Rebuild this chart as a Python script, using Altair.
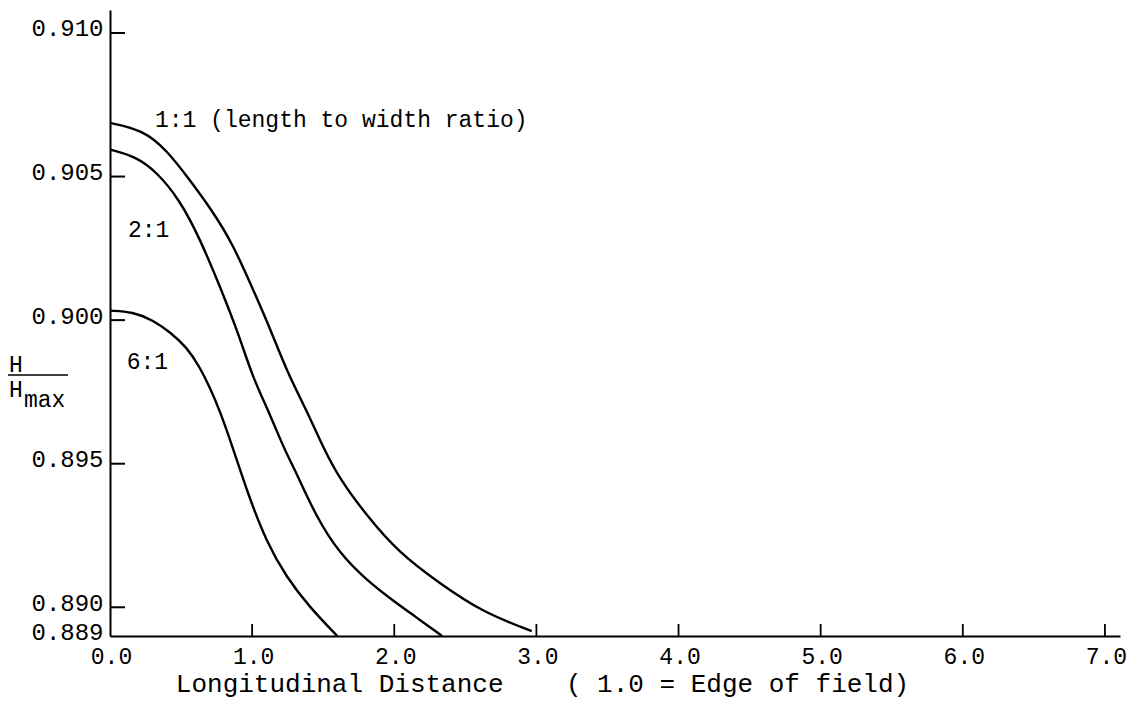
import altair as alt
import pandas as pd

# ---- data ----
x_1to1 = [0.0, 0.231, 0.400, 0.561, 0.701, 0.863, 1.017, 1.122, 1.249, 1.382, 1.508, 1.613, 1.803, 2.034, 2.315, 2.616, 2.967]
y_1to1 = [0.90687, 0.90662, 0.90592, 0.90488, 0.90394, 0.90268, 0.90094, 0.89976, 0.89816, 0.89687, 0.89548, 0.89450, 0.89321, 0.89189, 0.89085, 0.88984, 0.88917]

x_2to1 = [0.0, 0.175, 0.330, 0.491, 0.631, 0.793, 0.912, 1.003, 1.122, 1.228, 1.312, 1.452, 1.613, 1.803, 2.013, 2.153, 2.336]
y_2to1 = [0.90594, 0.90571, 0.90516, 0.90418, 0.90286, 0.90094, 0.89941, 0.89802, 0.89676, 0.89548, 0.89468, 0.89314, 0.89189, 0.89095, 0.89015, 0.88966, 0.88900]

x_6to1 = [0.0, 0.161, 0.302, 0.421, 0.540, 0.631, 0.701, 0.771, 0.863, 0.968, 1.101, 1.241, 1.403, 1.599]
y_6to1 = [0.90033, 0.90029, 0.90000, 0.89959, 0.89906, 0.89837, 0.89767, 0.89687, 0.89558, 0.89398, 0.89227, 0.89105, 0.89001, 0.88900]

x_ticks = [0.0, 1.0, 2.0, 3.0, 4.0, 5.0, 6.0, 7.0]
y_ticks = [0.889, 0.890, 0.895, 0.900, 0.905, 0.910]
x_inner_ticks = [1.0, 2.0, 3.0, 4.0, 5.0, 6.0, 7.0]
y_inner_ticks = [0.890, 0.895, 0.900, 0.905, 0.910]

ann_labels = ["1:1 (length to width ratio)", "2:1", "6:1"]
ann_x = [0.316, 0.126, 0.117]
ann_y = [0.90697, 0.90314, 0.89855]

x_title = "Longitudinal Distance\u00a0\u00a0\u00a0\u00a0( 1.0 = Edge of field)"

# ---- tables ----
rows = []
for name, xs, ys in [("1:1", x_1to1, y_1to1), ("2:1", x_2to1, y_2to1), ("6:1", x_6to1, y_6to1)]:
    for a, b in zip(xs, ys):
        rows.append({"series": name, "x": a, "y": b})
curves = pd.DataFrame(rows)
xt_df = pd.DataFrame({"x": x_inner_ticks})
yt_df = pd.DataFrame({"y": y_inner_ticks})
ann_df = pd.DataFrame({"label": ann_labels, "x": ann_x, "y": ann_y})
one = pd.DataFrame({"a": [0]})

FONT = "Liberation Mono"
W, H = 1010, 626

xscale = alt.Scale(domain=[0, 7.106], nice=False, zero=False)
yscale = alt.Scale(domain=[0.889, 0.9108], nice=False, zero=False)

x_axis = alt.Axis(values=x_ticks, format=".1f", title=x_title, ticks=False, grid=False,
                  domainColor="black", domainWidth=2, labelFont=FONT, labelFontSize=23,
                  labelColor="black", labelPadding=9, labelOffset=1, labelFlush=False,
                  labelOverlap=False, titleFont=FONT, titleFontSize=26, titleFontWeight="normal",
                  titleColor="black", titleX=432, titleY=55, titleAlign="center",
                  titleBaseline="alphabetic")
y_axis = alt.Axis(values=y_ticks, format=".3f", title=None, ticks=False, grid=False,
                  domainColor="black", domainWidth=2, labelFont=FONT, labelFontSize=24,
                  labelColor="black", labelPadding=7, labelOffset=-4, labelFlush=False,
                  labelOverlap=False)

x_enc = alt.X("x:Q", scale=xscale, axis=x_axis)
y_enc = alt.Y("y:Q", scale=yscale, axis=y_axis)

lines = alt.Chart(curves).mark_line(color="black", strokeWidth=2.4, interpolate="basis").encode(
    x=x_enc, y=y_enc, detail="series:N", order="x:Q")

yt = alt.Chart(yt_df).mark_rule(color="black", strokeWidth=2).encode(
    y=y_enc, x=alt.value(0), x2=alt.value(15))
xt = alt.Chart(xt_df).mark_rule(color="black", strokeWidth=1.8).encode(
    x=x_enc, y=alt.value(H), y2=alt.value(H - 12))

ann = alt.Chart(ann_df).mark_text(font=FONT, fontSize=23, color="black", align="left",
                                  baseline="middle").encode(x=x_enc, y=y_enc, text="label:N")

# y-axis title: H / H_max
ytitle_top = alt.Chart(one).mark_text(text="H", font=FONT, fontSize=23, color="black",
                                      align="center", baseline="alphabetic").encode(
    x=alt.value(-94), y=alt.value(362))
ytitle_bar = alt.Chart(one).mark_rule(color="black", strokeWidth=1.5).encode(
    x=alt.value(-102), x2=alt.value(-42), y=alt.value(365))
ytitle_bot = alt.Chart(one).mark_text(text="H", font=FONT, fontSize=23, color="black",
                                      align="center", baseline="alphabetic").encode(
    x=alt.value(-94), y=alt.value(387))
ytitle_sub = alt.Chart(one).mark_text(text="max", font=FONT, fontSize=23, color="black",
                                      align="left", baseline="alphabetic").encode(
    x=alt.value(-86), y=alt.value(397))

chart = alt.layer(lines, yt, xt, ann, ytitle_top, ytitle_bar, ytitle_bot, ytitle_sub).properties(
    width=W, height=H,
    autosize=alt.AutoSizeParams(type="none"),
    padding={"left": 102, "top": 2, "right": 8, "bottom": 62},
    background="white",
).configure_view(stroke=None)

chart.save("out.html", embed_options={"renderer": "svg", "actions": False})
